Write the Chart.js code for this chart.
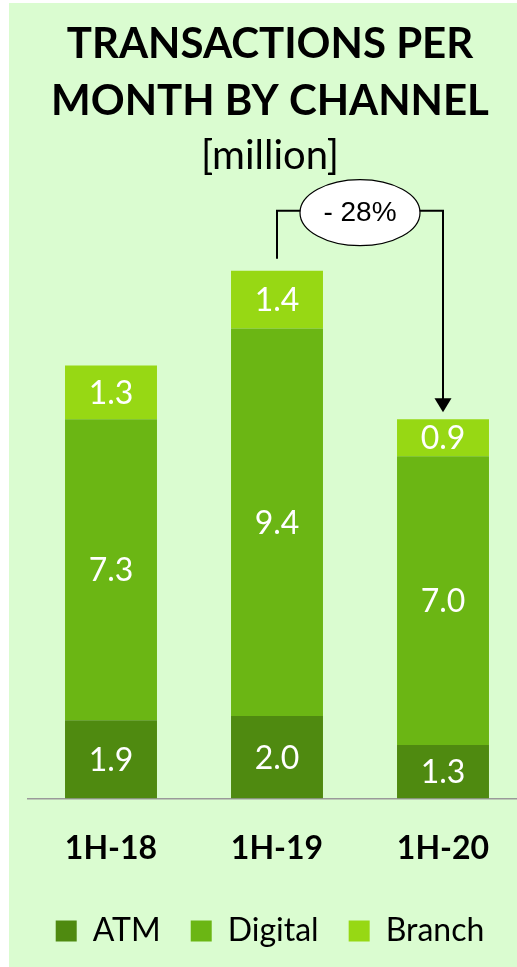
<!DOCTYPE html>
<html>
<head>
<meta charset="utf-8">
<script src="https://cdn.jsdelivr.net/npm/chart.js@4.4.1/dist/chart.umd.min.js"></script>
<style>
  html, body { margin: 0; padding: 0; background: #ffffff; overflow: hidden; width: 517px; height: 967px; }
  #bg { position: absolute; left: 9px; top: 3px; width: 508px; height: 964px; background: #dafcd0; }
  #wrap { position: absolute; left: 14px; top: 3px; width: 512px; height: 964px; }
  canvas { display: block; }
</style>
</head>
<body>
<div id="bg"></div>
<div id="wrap"><canvas id="c" width="512" height="964"></canvas></div>
<script>
// ---- data ----
const categories = ['1H-18', '1H-19', '1H-20'];
const atmValues = [1.9, 2.0, 1.3];
const digitalValues = [7.3, 9.4, 7.0];
const branchValues = [1.3, 1.4, 0.9];
const seriesNames = ['ATM', 'Digital', 'Branch'];
const titleLines = ['TRANSACTIONS PER', 'MONTH BY CHANNEL'];
const subtitleText = '[million]';
const changeLabel = '- 28%';
const changeFrom = 1; // index of 1H-19
const changeTo = 2;   // index of 1H-20

const colors = ['#4f8a10', '#6bb614', '#97d814'];

const valueLabels = {
  id: 'valueLabels',
  afterDatasetsDraw(chart) {
    const ctx = chart.ctx;
    ctx.save();
    ctx.fillStyle = '#ffffff';
    ctx.font = '32px Lato, "Open Sans", sans-serif';
    ctx.textAlign = 'center';
    ctx.textBaseline = 'middle';
    chart.data.datasets.forEach((ds, di) => {
      const meta = chart.getDatasetMeta(di);
      meta.data.forEach((el, i) => {
        const v = ds.data[i];
        ctx.fillText(v.toFixed(1), el.x, (el.y + el.base) / 2 + 1);
      });
    });
    ctx.restore();
  }
};

const changeArrow = {
  id: 'changeArrow',
  afterDraw(chart) {
    const ctx = chart.ctx;
    const top = chart.getDatasetMeta(chart.data.datasets.length - 1);
    const a = top.data[changeFrom], b = top.data[changeTo];
    const cx = (a.x + b.x) / 2;
    const cy = a.y - 58;
    const rx = 60, ry = 33;
    ctx.save();
    ctx.strokeStyle = '#000000';
    ctx.lineWidth = 2;
    ctx.beginPath();
    ctx.moveTo(a.x, a.y - 12);
    ctx.lineTo(a.x, cy - 2);
    ctx.lineTo(b.x, cy - 2);
    ctx.lineTo(b.x, b.y - 20);
    ctx.stroke();
    // arrow head
    ctx.fillStyle = '#000000';
    ctx.beginPath();
    ctx.moveTo(b.x - 8.5, b.y - 21);
    ctx.lineTo(b.x + 8.5, b.y - 21);
    ctx.lineTo(b.x, b.y - 7);
    ctx.closePath();
    ctx.fill();
    // ellipse
    ctx.beginPath();
    ctx.ellipse(cx, cy, rx, ry, 0, 0, Math.PI * 2);
    ctx.fillStyle = '#ffffff';
    ctx.fill();
    ctx.lineWidth = 1.2;
    ctx.stroke();
    ctx.fillStyle = '#000000';
    ctx.font = '28px "Liberation Sans Narrow", "Arial Narrow", "Liberation Sans", sans-serif';
    ctx.textAlign = 'center';
    ctx.textBaseline = 'middle';
    ctx.fillText(changeLabel, cx, cy + 1);
    ctx.restore();
  }
};

const datasets = [atmValues, digitalValues, branchValues].map((vals, i) => ({
  label: seriesNames[i],
  data: vals,
  backgroundColor: colors[i],
  borderWidth: 0,
  categoryPercentage: 1.0,
  barPercentage: 0.554
}));

new Chart(document.getElementById('c'), {
  type: 'bar',
  data: { labels: categories, datasets },
  options: {
    responsive: false,
    animation: false,
    devicePixelRatio: 1,
    layout: { padding: { left: 0, right: 0, top: 0, bottom: 10 } },
    plugins: {
      title: {
        display: true,
        text: titleLines,
        color: '#000000',
        font: { family: 'Lato, "Open Sans", sans-serif', size: 42, weight: 'bold', lineHeight: 1.38 },
        padding: { top: 12, bottom: 0 }
      },
      subtitle: {
        display: true,
        text: subtitleText,
        color: '#000000',
        font: { family: 'Lato, "Open Sans", sans-serif', size: 40, weight: 'normal', lineHeight: 1.2 },
        padding: { top: 1, bottom: 0 }
      },
      legend: {
        display: true,
        position: 'bottom',
        labels: {
          color: '#000000',
          font: { family: 'Lato, "Open Sans", sans-serif', size: 32 },
          boxWidth: 21,
          boxHeight: 21,
          padding: 30
        }
      },
      tooltip: { enabled: false }
    },
    scales: {
      x: {
        stacked: true,
        grid: { display: false, drawTicks: false },
        border: { display: true, color: '#9a9a9a', width: 1.5 },
        ticks: {
          color: '#000000',
          font: { family: 'Lato, "Open Sans", sans-serif', size: 32, weight: 'bold' },
          padding: 31
        },
        afterFit(scale) { scale.height -= 14; }
      },
      y: {
        stacked: true,
        display: true,
        min: 0,
        max: 15,
        grid: { display: false, drawTicks: false },
        border: { display: false },
        ticks: { display: false },
        afterFit(scale) { scale.width = 14; }
      }
    }
  },
  plugins: [valueLabels, changeArrow]
});
</script>
</body>
</html>
